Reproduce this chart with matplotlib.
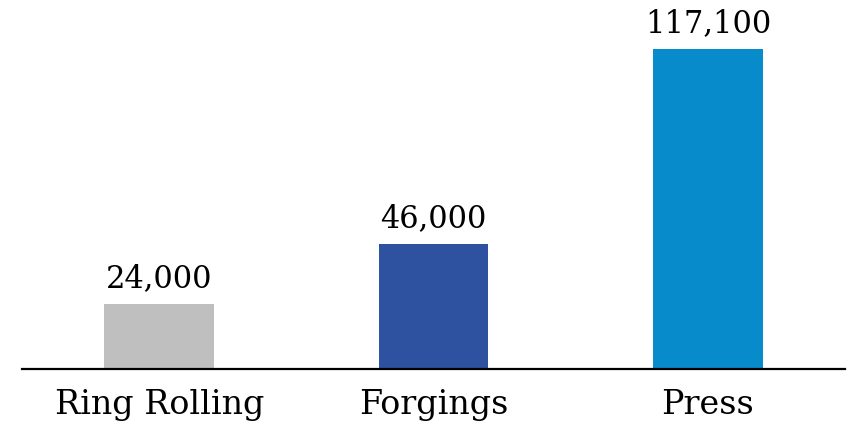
import matplotlib.pyplot as plt

categories = ["Ring Rolling", "Forgings", "Press"]
values = [24000, 46000, 117100]
colors = ["#BFBFBF", "#2F52A0", "#088BCB"]

fig = plt.figure(figsize=(8.47, 4.28), dpi=100)
ax = fig.add_axes([0.026, 0.1367, 0.9717, 0.8633])

x = range(len(categories))
bars = ax.bar(x, values, width=0.4, color=colors)
ax.set_xlim(-0.5, 2.5)
ax.set_ylim(0, 135000)

for b, v in zip(bars, values):
    ax.annotate(f"{v:,}", (b.get_x() + b.get_width() / 2, v), xytext=(0, 7),
                textcoords="offset points", ha="center", va="bottom",
                family="DejaVu Serif", fontsize=22)

ax.set_xticks(list(x))
ax.set_xticklabels(categories, family="DejaVu Serif", fontsize=24)
ax.tick_params(axis="x", length=0, pad=14)
ax.set_yticks([])
for s in ["top", "right", "left"]:
    ax.spines[s].set_visible(False)
ax.spines["bottom"].set_linewidth(1.6)

fig.savefig("out.png", dpi=100)
